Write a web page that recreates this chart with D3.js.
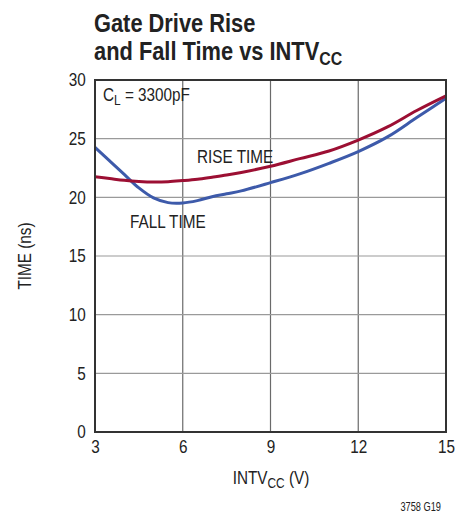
<!DOCTYPE html>
<html>
<head>
<meta charset="utf-8">
<script src="https://cdn.jsdelivr.net/npm/d3@7"></script>
<style>
  html, body { margin: 0; padding: 0; background: #fff; }
  svg { display: block; font-family: "Liberation Sans", Arial, sans-serif; }
</style>
</head>
<body>
<svg id="chart" width="459" height="513"></svg>
<script>
// ── data ──
const xTicks = [3, 6, 9, 12, 15];
const yTicks = [0, 5, 10, 15, 20, 25, 30];

const riseV  = [3, 3.5, 4, 4.5, 5, 5.5, 6, 6.5, 7, 7.5, 8, 9, 10, 11, 12, 13, 14, 15];
const riseNs = [21.75, 21.6, 21.45, 21.35, 21.3, 21.33, 21.43, 21.55, 21.72, 21.9, 22.12, 22.65, 23.3, 23.95, 24.88, 26.0, 27.4, 28.65];

const fallV  = [3, 3.5, 4, 4.5, 5, 5.5, 6, 6.5, 7, 7.5, 8, 9, 10, 11, 12, 13, 14, 15];
const fallNs = [24.25, 23.1, 21.95, 20.8, 19.95, 19.55, 19.52, 19.72, 20.05, 20.3, 20.55, 21.25, 22.0, 22.9, 23.9, 25.15, 26.8, 28.45];

// ── layout ──
const svg = d3.select('#chart');
const plotL = 95, plotR = 446, plotT = 80, plotB = 432;
const NARROW = 0.85;   // no condensed font installed, squeeze Liberation Sans instead

const x = d3.scaleLinear().domain([3, 15]).range([plotL, plotR]);
const y = d3.scaleLinear().domain([0, 30]).range([plotB, plotT]);

// text helper: squeezed horizontally around its anchor point
function label(px, py, size, opts = {}) {
  const g = svg.append('g')
    .attr('transform', `translate(${px},${py}) scale(${opts.sx || NARROW},1)`);
  return g.append('text')
    .attr('font-size', size)
    .attr('font-weight', opts.bold ? 'bold' : null)
    .attr('text-anchor', opts.anchor || 'start')
    .attr('fill', '#222');
}

// grid
svg.append('g')
  .selectAll('line')
  .data(xTicks.slice(1, -1))
  .join('line')
  .attr('x1', d => x(d)).attr('x2', d => x(d))
  .attr('y1', plotT).attr('y2', plotB)
  .attr('stroke', '#6a6a6a').attr('stroke-width', 1.2);

svg.append('g')
  .selectAll('line')
  .data(yTicks.slice(1, -1))
  .join('line')
  .attr('x1', plotL).attr('x2', plotR)
  .attr('y1', d => y(d)).attr('y2', d => y(d))
  .attr('stroke', '#9a9a9a').attr('stroke-width', 1.2);

// tick labels via axes (no tick lines, no domain)
const xAxis = svg.append('g')
  .attr('transform', `translate(0,${plotB})`)
  .call(d3.axisBottom(x).tickValues(xTicks).tickSize(0).tickPadding(8));
xAxis.select('.domain').remove();
xAxis.selectAll('text')
  .attr('font-size', 18).attr('fill', '#222')
  .attr('transform', `scale(${NARROW},1)`)
  .style('font-family', '"Liberation Sans", Arial, sans-serif');

const yAxis = svg.append('g')
  .attr('transform', `translate(${plotL},0)`)
  .call(d3.axisLeft(y).tickValues(yTicks).tickSize(0).tickPadding(11));
yAxis.select('.domain').remove();
yAxis.selectAll('text')
  .attr('font-size', 18).attr('fill', '#222')
  .attr('transform', `scale(${NARROW},1)`)
  .style('font-family', '"Liberation Sans", Arial, sans-serif');

// curves
const line = d3.line()
  .x(d => x(d[0]))
  .y(d => y(d[1]))
  .curve(d3.curveCatmullRom.alpha(0.5));

svg.append('path')
  .datum(fallV.map((v, i) => [v, fallNs[i]]))
  .attr('d', line)
  .attr('fill', 'none')
  .attr('stroke', '#3d5aaa')
  .attr('stroke-width', 3);

svg.append('path')
  .datum(riseV.map((v, i) => [v, riseNs[i]]))
  .attr('d', line)
  .attr('fill', 'none')
  .attr('stroke', '#9c0f33')
  .attr('stroke-width', 3);

// frame
svg.append('rect')
  .attr('x', plotL).attr('y', plotT)
  .attr('width', plotR - plotL).attr('height', plotB - plotT)
  .attr('fill', 'none')
  .attr('stroke', '#333').attr('stroke-width', 2);

// title
label(94, 32, 26, { bold: true, sx: 0.84 }).text('Gate Drive Rise');
const t2 = label(94, 60, 26, { bold: true, sx: 0.84 });
t2.append('tspan').text('and Fall Time vs INTV');
t2.append('tspan').attr('font-size', 19).attr('dy', 5).text('CC');

// annotations
const cl = label(103, 101, 18);
cl.append('tspan').text('C');
cl.append('tspan').attr('font-size', 14).attr('dy', 4).text('L');
cl.append('tspan').attr('dy', -4).text(' = 3300pF');

label(197, 163, 18).text('RISE TIME');
label(130, 228, 18).text('FALL TIME');

// axis titles
const xt = label(271, 484, 18, { anchor: 'middle' });
xt.append('tspan').text('INTV');
xt.append('tspan').attr('font-size', 14).attr('dy', 4).text('CC');
xt.append('tspan').attr('dy', -4).text(' (V)');

svg.append('g')
  .attr('transform', 'translate(31,256) rotate(-90) scale(0.85,1)')
  .append('text')
  .attr('text-anchor', 'middle').attr('font-size', 18).attr('fill', '#222')
  .text('TIME (ns)');

label(441, 511, 12, { anchor: 'end', sx: 0.77 }).text('3758 G19');
</script>
</body>
</html>
